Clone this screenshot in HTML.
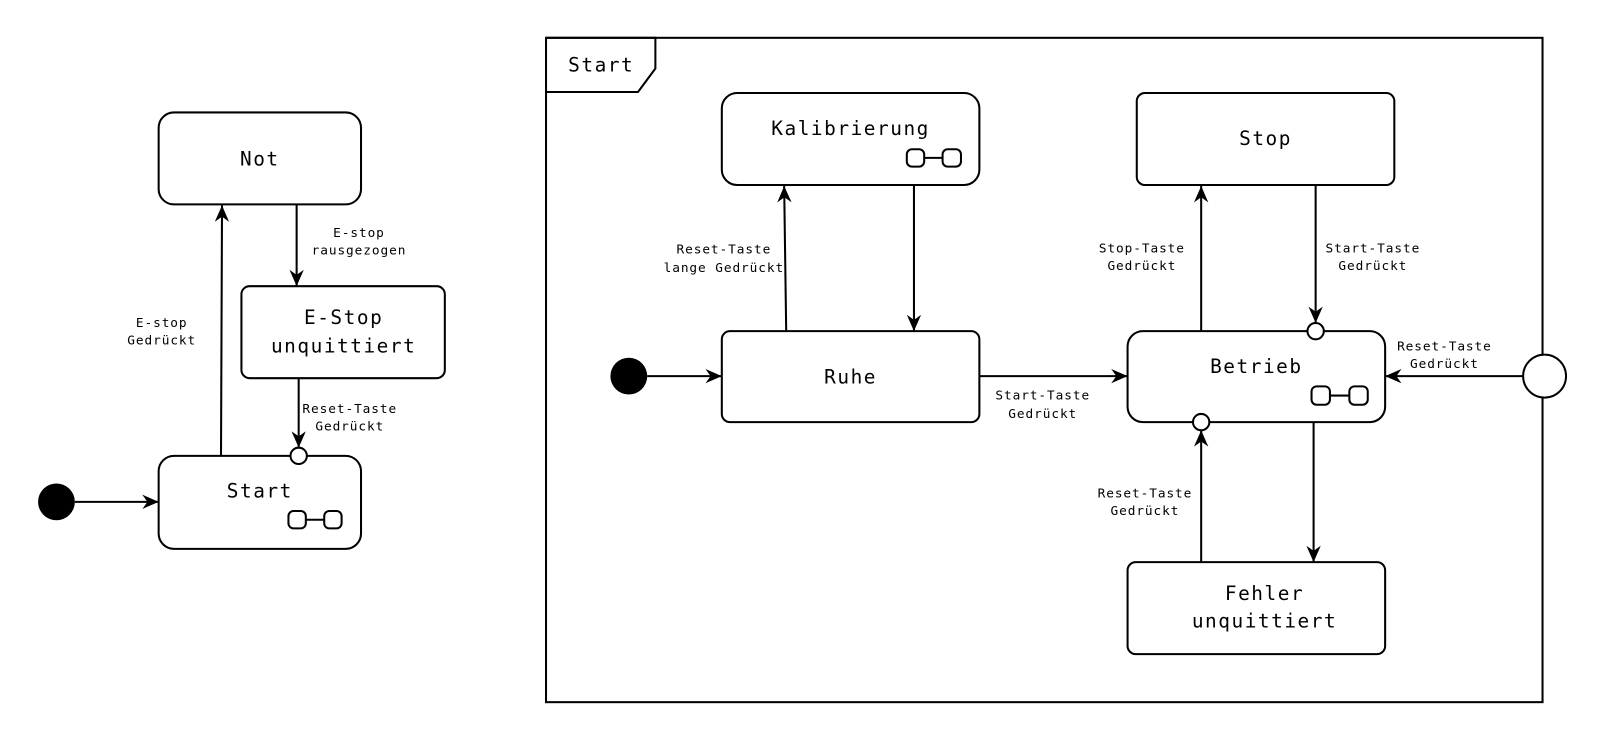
<!DOCTYPE html>
<html><head><meta charset="utf-8"><style>html,body{margin:0;padding:0;background:#fff}svg{display:block}text{font-family:"DejaVu Sans Mono","Liberation Mono",monospace;fill:#000}</style></head><body>
<svg width="1600" height="741" viewBox="0 0 1565 725" xmlns="http://www.w3.org/2000/svg">
<defs><marker id="a" markerUnits="userSpaceOnUse" markerWidth="18" markerHeight="14" refX="16" refY="7" orient="auto"><path d="M0,0 L16,7 L0,14 L5,7 z" fill="#000"/></marker></defs>
<g fill="none" stroke="#000" stroke-width="2">
<rect x="155" y="110" width="198" height="90" rx="15"/>
<rect x="236" y="280" width="199" height="90" rx="8"/>
<rect x="155" y="446" width="198" height="91" rx="15"/>
<rect x="282" y="500" width="17" height="17" rx="5"/><rect x="317" y="500" width="17" height="17" rx="5"/><line x1="299" y1="508.5" x2="317" y2="508.5"/>
<line x1="290" y1="200" x2="290" y2="280" marker-end="url(#a)"/>
<line x1="292" y1="370" x2="292" y2="438" marker-end="url(#a)"/>
<line x1="216" y1="446" x2="217" y2="201" marker-end="url(#a)"/>
<line x1="73" y1="491" x2="155" y2="491" marker-end="url(#a)"/>
<rect x="534" y="37" width="975" height="650"/>
<path d="M534,37 L641,37 L641,67 L624,90 L534,90"/>
<rect x="706" y="91" width="252" height="90" rx="15"/>
<rect x="887" y="146" width="17" height="17" rx="5"/><rect x="922" y="146" width="18" height="17" rx="5"/><line x1="904" y1="154.5" x2="922" y2="154.5"/>
<rect x="1112" y="91" width="252" height="90" rx="8"/>
<rect x="706" y="324" width="252" height="89" rx="8"/>
<rect x="1103" y="324" width="252" height="89" rx="15"/>
<rect x="1283" y="378" width="18" height="18" rx="5"/><rect x="1320" y="378" width="18" height="18" rx="5"/><line x1="1301" y1="387" x2="1320" y2="387"/>
<rect x="1103" y="550" width="252" height="90" rx="8"/>
<line x1="633" y1="368" x2="706" y2="368" marker-end="url(#a)"/>
<line x1="769" y1="324" x2="767" y2="182" marker-end="url(#a)"/>
<line x1="894" y1="181" x2="894" y2="324" marker-end="url(#a)"/>
<line x1="958" y1="368" x2="1103" y2="368" marker-end="url(#a)"/>
<line x1="1175" y1="324" x2="1175" y2="182" marker-end="url(#a)"/>
<line x1="1287" y1="181" x2="1287" y2="316" marker-end="url(#a)"/>
<line x1="1490" y1="368" x2="1355" y2="368" marker-end="url(#a)"/>
<line x1="1175" y1="550" x2="1175" y2="421" marker-end="url(#a)"/>
<line x1="1285" y1="413" x2="1285" y2="550" marker-end="url(#a)"/>
</g>
<g stroke="#000" stroke-width="2" fill="#fff">
<circle cx="292" cy="446" r="8"/><circle cx="1287" cy="324" r="8"/><circle cx="1175" cy="413" r="8"/><circle cx="1511" cy="368" r="21"/>
</g>
<circle cx="55" cy="491" r="18" fill="#000"/><circle cx="615" cy="368" r="18" fill="#000"/>
<g font-size="19" letter-spacing="1.5" text-anchor="middle">
<text x="254" y="162">Not</text>
<text x="336" y="317">E-Stop</text><text x="336" y="345">unquittiert</text>
<text x="254" y="487">Start</text>
<text x="832" y="132">Kalibrierung</text>
<text x="1238" y="142">Stop</text>
<text x="832" y="375">Ruhe</text>
<text x="1229" y="365">Betrieb</text>
<text x="1237" y="587">Fehler</text><text x="1237" y="614">unquittiert</text>
<text x="588" y="70">Start</text>
</g>
<g font-size="12.5" letter-spacing="0.9" text-anchor="middle">
<text x="351" y="232">E-stop</text><text x="351" y="249">rausgezogen</text>
<text x="342" y="404">Reset-Taste</text><text x="342" y="421">Gedrückt</text>
<text x="158" y="320">E-stop</text><text x="158" y="337">Gedrückt</text>
<text x="708" y="248">Reset-Taste</text><text x="708" y="266">lange Gedrückt</text>
<text x="1020" y="391">Start-Taste</text><text x="1020" y="409">Gedrückt</text>
<text x="1117" y="247">Stop-Taste</text><text x="1117" y="264">Gedrückt</text>
<text x="1343" y="247">Start-Taste</text><text x="1343" y="264">Gedrückt</text>
<text x="1413" y="343">Reset-Taste</text><text x="1413" y="360">Gedrückt</text>
<text x="1120" y="487">Reset-Taste</text><text x="1120" y="504">Gedrückt</text>
</g>
</svg>
</body></html>
